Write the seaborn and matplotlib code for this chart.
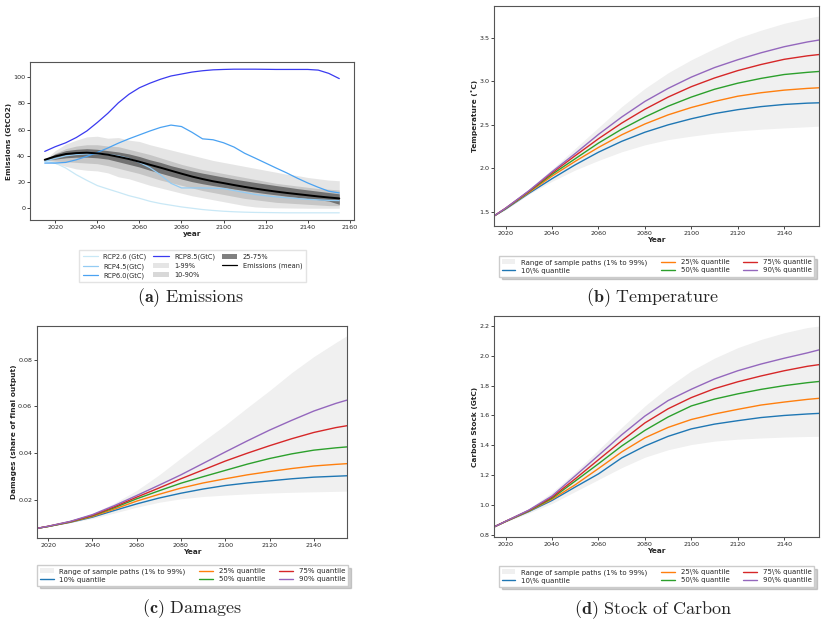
import numpy as np
import pandas as pd
import matplotlib
matplotlib.use("Agg")
import matplotlib.pyplot as plt
import seaborn as sns

# ------------------------------------------------------------
# (a) Emissions: RCP scenarios + simulated bands, 5-year steps
# ------------------------------------------------------------
years_a = np.arange(2015, 2156, 5)
rcp26 = [36, 34.5, 30.7, 25.6, 21.3, 17.3, 14.7, 12.2, 9.6, 7.6, 5.3, 3.6, 2.3, 1.0, 0.0,
         -1.0, -1.7, -2.3, -2.7, -3.0, -3.2, -3.3, -3.4, -3.5, -3.5, -3.5, -3.5, -3.5, -3.5]
rcp45 = [36, 38, 40, 41, 41.5, 41.5, 41, 40, 38, 35, 31, 25.5, 19, 15.5, 15.5,
         15.5, 15.3, 15, 13.5, 12, 10.5, 9.5, 8.7, 8, 7.4, 6.8, 6.4, 6, 5.8]
rcp60 = [34.5, 34.5, 35, 37, 39.6, 42.6, 46, 49.7, 53, 56, 59, 61.7, 63.5, 62.4, 58,
         53, 52.3, 50, 46.7, 42, 38.3, 34.5, 30.7, 27, 23, 19.3, 16, 13, 11.7]
rcp85 = [43.4, 47, 50, 54, 59, 65.5, 72.5, 80.5, 87, 92, 95.5, 98.5, 101, 102.5, 104,
         105, 105.7, 106, 106.2, 106.2, 106.2, 106.1, 106, 106, 106, 106, 105.5, 103, 99]
em_mean = [37, 39.6, 41.4, 42.1, 42.4, 41.9, 40.9, 39.3, 37.6, 35.5, 33.2, 31, 28.7, 26.4, 24.2,
           22.3, 20.6, 19.2, 17.7, 16.3, 15.0, 13.8, 12.7, 11.7, 10.8, 9.9, 9.0, 8.2, 7.5]
em_p01 = [37, 34, 32, 30, 29, 28.5, 27, 24, 22.5, 20, 17.5, 15.5, 13.5, 11.5, 9.5,
          8, 6.5, 5, 3.5, 2, 1, 0.5, 0.3, 0.2, 0.1, 0, 0, 0, 0]
em_p99 = [37, 44, 49, 52, 54.5, 55, 53.5, 54, 52, 51, 48.5, 46.5, 44.5, 42.5, 40.5,
          38.5, 36.5, 35, 33.5, 32, 30.5, 29, 27.5, 26, 25, 23.5, 22.5, 21.5, 21]
em_p10 = [37, 36, 35.5, 35, 34.5, 34, 32.5, 30.5, 28.5, 26.5, 24, 21.5, 19.5, 17.5, 15.5,
          13.5, 12, 10.5, 9, 7.5, 6.5, 5.5, 4.5, 4, 3.5, 3, 2.5, 2, 2]
em_p90 = [37, 42, 45.5, 47.5, 48.5, 48.5, 47.5, 47, 45, 43, 41, 38.5, 36, 33.5, 31.5,
          29.5, 28, 26.5, 25, 23.5, 22, 20.5, 19, 18, 17, 16, 15, 14.5, 14]
em_p25 = [37, 37.5, 38.5, 39, 39, 38.5, 37.5, 35.5, 33.5, 31.5, 29, 26.8, 24.5, 22.3, 20.3,
          18.7, 17.3, 16, 14.7, 13.5, 12.3, 11.2, 10.2, 9.2, 8.3, 7.4, 6.5, 5.5, 3]
em_p75 = [37, 41.5, 44, 45, 45.5, 45, 44, 43, 41.5, 39.5, 37, 35, 32.5, 30.5, 28.5,
          26.8, 25.3, 23.8, 22.3, 21, 19.7, 18.5, 17.3, 16.2, 15, 14, 13, 12, 11]

# ------------------------------------------------------------
# (b)-(d) quantile paths
# ------------------------------------------------------------
years_q = [2015, 2020, 2030, 2040, 2050, 2060, 2070, 2080, 2090, 2100, 2110, 2120, 2130, 2140, 2150, 2155]

temp_lo = [1.45, 1.52, 1.70, 1.85, 1.98, 2.09, 2.19, 2.27, 2.33, 2.37, 2.405, 2.43, 2.45, 2.465, 2.478, 2.485]
temp_hi = [1.45, 1.55, 1.76, 1.99, 2.23, 2.47, 2.71, 2.92, 3.10, 3.25, 3.38, 3.50, 3.59, 3.67, 3.73, 3.754]
temp_q = {
    10: [1.45, 1.53, 1.71, 1.88, 2.04, 2.185, 2.31, 2.415, 2.50, 2.57, 2.63, 2.675, 2.71, 2.735, 2.75, 2.754],
    25: [1.45, 1.535, 1.72, 1.91, 2.08, 2.24, 2.385, 2.51, 2.615, 2.70, 2.77, 2.83, 2.87, 2.90, 2.92, 2.927],
    50: [1.45, 1.535, 1.73, 1.93, 2.11, 2.29, 2.45, 2.59, 2.715, 2.82, 2.91, 2.98, 3.035, 3.08, 3.105, 3.115],
    75: [1.45, 1.54, 1.735, 1.946, 2.145, 2.34, 2.52, 2.68, 2.82, 2.94, 3.04, 3.125, 3.195, 3.255, 3.295, 3.31],
    90: [1.45, 1.54, 1.74, 1.96, 2.17, 2.39, 2.59, 2.77, 2.92, 3.05, 3.16, 3.25, 3.33, 3.40, 3.455, 3.477],
}

dam_lo = [0.0076, 0.0084, 0.0100, 0.0118, 0.0142, 0.0167, 0.0188, 0.0203, 0.0213, 0.0219, 0.0224, 0.0228, 0.0231, 0.0233, 0.0235, 0.0236]
dam_hi = [0.0076, 0.0085, 0.0108, 0.0140, 0.0185, 0.0239, 0.0305, 0.0378, 0.0450, 0.0520, 0.0595, 0.0668, 0.0745, 0.0814, 0.0875, 0.0904]
dam_q = {
    10: [0.0076, 0.0084, 0.0102, 0.0124, 0.0153, 0.0181, 0.0206, 0.0227, 0.0245, 0.0260, 0.0271, 0.0280, 0.0289, 0.0296, 0.0300, 0.0302],
    25: [0.0076, 0.0084, 0.0103, 0.0127, 0.0159, 0.0193, 0.0222, 0.0249, 0.0271, 0.0289, 0.0306, 0.0320, 0.0333, 0.0344, 0.0351, 0.0354],
    50: [0.0076, 0.0084, 0.0104, 0.0130, 0.0165, 0.0203, 0.0237, 0.0270, 0.0298, 0.0325, 0.0352, 0.0376, 0.0396, 0.0412, 0.0422, 0.0426],
    75: [0.0076, 0.0085, 0.0105, 0.0132, 0.0169, 0.0210, 0.0249, 0.0289, 0.0327, 0.0365, 0.0399, 0.0431, 0.0461, 0.0488, 0.0509, 0.0517],
    90: [0.0076, 0.0085, 0.0106, 0.0135, 0.0174, 0.0217, 0.0261, 0.0306, 0.0355, 0.0404, 0.0452, 0.0498, 0.0540, 0.0580, 0.0613, 0.0627],
}

carb_lo = [0.852, 0.885, 0.945, 1.01, 1.09, 1.17, 1.25, 1.32, 1.37, 1.405, 1.428, 1.441, 1.449, 1.455, 1.459, 1.46]
carb_hi = [0.852, 0.90, 0.975, 1.085, 1.22, 1.37, 1.52, 1.664, 1.79, 1.90, 1.985, 2.055, 2.11, 2.155, 2.19, 2.20]
carb_q = {
    10: [0.852, 0.888, 0.955, 1.03, 1.12, 1.208, 1.315, 1.395, 1.46, 1.51, 1.542, 1.565, 1.586, 1.60, 1.61, 1.614],
    25: [0.852, 0.888, 0.958, 1.038, 1.135, 1.244, 1.355, 1.45, 1.52, 1.573, 1.61, 1.641, 1.67, 1.69, 1.708, 1.715],
    50: [0.852, 0.889, 0.96, 1.045, 1.16, 1.276, 1.395, 1.50, 1.59, 1.664, 1.71, 1.745, 1.775, 1.80, 1.82, 1.828],
    75: [0.852, 0.89, 0.963, 1.052, 1.175, 1.303, 1.43, 1.55, 1.645, 1.72, 1.78, 1.826, 1.865, 1.90, 1.93, 1.941],
    90: [0.852, 0.89, 0.965, 1.06, 1.195, 1.332, 1.47, 1.596, 1.70, 1.776, 1.845, 1.90, 1.945, 1.984, 2.02, 2.04],
}

q_colors = {10: "tab:blue", 25: "tab:orange", 50: "tab:green", 75: "tab:red", 90: "tab:purple"}
rcp_colors = ["#c9e8f6", "#93cbf3", "#4aa2f2", "#3a3af0"]

sns.set_style("ticks")
plt.rcParams["mathtext.fontset"] = "cm"
plt.rcParams["axes.edgecolor"] = "#555555"
plt.rcParams["axes.linewidth"] = 0.8
plt.rcParams["xtick.labelsize"] = 4.6
plt.rcParams["ytick.labelsize"] = 4.6
plt.rcParams["xtick.major.size"] = 2
plt.rcParams["ytick.major.size"] = 2
plt.rcParams["xtick.major.width"] = 0.6
plt.rcParams["ytick.major.width"] = 0.6
plt.rcParams["xtick.major.pad"] = 1.5
plt.rcParams["ytick.major.pad"] = 1.5
plt.rcParams["font.family"] = ["DejaVu Sans"]

W, H = 826, 622
fig = plt.figure(figsize=(W / 100, H / 100), dpi=100)


def box(left, top, right, bottom):
    return [left / W, 1 - bottom / H, (right - left) / W, (bottom - top) / H]


lab_kw = dict(fontsize=5.3, fontweight="bold", labelpad=1)

# ---- (a) Emissions ----
ax = fig.add_axes(box(30, 62, 354, 220))
for vals, name, c in zip([rcp26, rcp45, rcp60, rcp85],
                         ["RCP2.6 (GtC)", "RCP4.5(GtC)", "RCP6.0(GtC)", "RCP8.5(GtC)"], rcp_colors):
    sns.lineplot(x=years_a, y=vals, ax=ax, color=c, lw=0.9, label=name)
ax.fill_between(years_a, em_p01, em_p99, color="gray", alpha=0.2, lw=0, label="1-99%")
ax.fill_between(years_a, em_p10, em_p90, color="gray", alpha=0.3, lw=0, label="10-90%")
ax.fill_between(years_a, em_p25, em_p75, color="#555555", alpha=0.75, lw=0, label="25-75%")
sns.lineplot(x=years_a, y=em_mean, ax=ax, color="black", lw=1.4, label="Emissions (mean)")
ax.set_xticks(range(2020, 2161, 20))
ax.set_yticks(range(0, 101, 20))
ax.set_xlabel("year", **lab_kw)
ax.set_ylabel("Emissions (GtCO2)", **lab_kw)
leg = ax.legend(loc="upper center", bbox_to_anchor=(192.5 / W, 1 - 247 / H), bbox_transform=fig.transFigure,
                ncol=3, fontsize=4.8, frameon=True, fancybox=False, edgecolor="#dddddd", handlelength=2.3,
                columnspacing=1.0, borderpad=0.5, labelspacing=0.45)
for ln in leg.get_lines():
    ln.set_linewidth(0.9)


def quant_panel(rect, lo, hi, qs, ylabel, fmt, legend_top, legend_x):
    ax = fig.add_axes(rect)
    ax.fill_between(years_q, lo, hi, color="#f0f0f0", lw=0, label="Range of sample paths (1% to 99%)")
    for q, vals in qs.items():
        sns.lineplot(x=years_q, y=vals, ax=ax, color=q_colors[q], lw=1.0, label=fmt.format(q))
    ax.set_xlim(2015, 2155)
    ax.set_xticks(range(2020, 2141, 20))
    ax.set_xlabel("Year", **lab_kw)
    ax.set_ylabel(ylabel, **lab_kw)
    ax.legend(loc="upper center", bbox_to_anchor=(legend_x / W, 1 - legend_top / H),
              bbox_transform=fig.transFigure, ncol=3, fontsize=5, shadow={"alpha": 0.25}, fancybox=False,
              edgecolor="#cccccc", handlelength=2.0, columnspacing=2.0, borderpad=0.4, labelspacing=0.3)
    return ax


ax_b = quant_panel(box(494, 6, 819, 226), temp_lo, temp_hi, temp_q, "Temperature (\u02daC)",
                   "{}\\% quantile", 253, 656.5)
ax_b.set_yticks([1.5, 2.0, 2.5, 3.0, 3.5])
ax_c = quant_panel(box(37, 326, 347, 538), dam_lo, dam_hi, dam_q, "Damages (share of final output)",
                   "{}% quantile", 562, 192.5)
ax_c.set_yticks([0.02, 0.04, 0.06, 0.08])
ax_d = quant_panel(box(494, 316, 819, 537), carb_lo, carb_hi, carb_q, "Carbon Stock (GtC)",
                   "{}\\% quantile", 563, 656.5)
ax_d.set_yticks([0.8, 1.0, 1.2, 1.4, 1.6, 1.8, 2.0, 2.2])

# ---- captions ----
cap_kw = dict(ha="center", va="center", fontsize=13)
fig.text(191 / W, 1 - 298 / H, r"$\mathbf{(a)}\ \mathrm{Emissions}$", **cap_kw)
fig.text(653 / W, 1 - 298 / H, r"$\mathbf{(b)}\ \mathrm{Temperature}$", **cap_kw)
fig.text(192 / W, 1 - 609 / H, r"$\mathbf{(c)}\ \mathrm{Damages}$", **cap_kw)
fig.text(653 / W, 1 - 610 / H, r"$\mathbf{(d)}\ \mathrm{Stock\ of\ Carbon}$", **cap_kw)

fig.savefig("out.png", dpi=100)
